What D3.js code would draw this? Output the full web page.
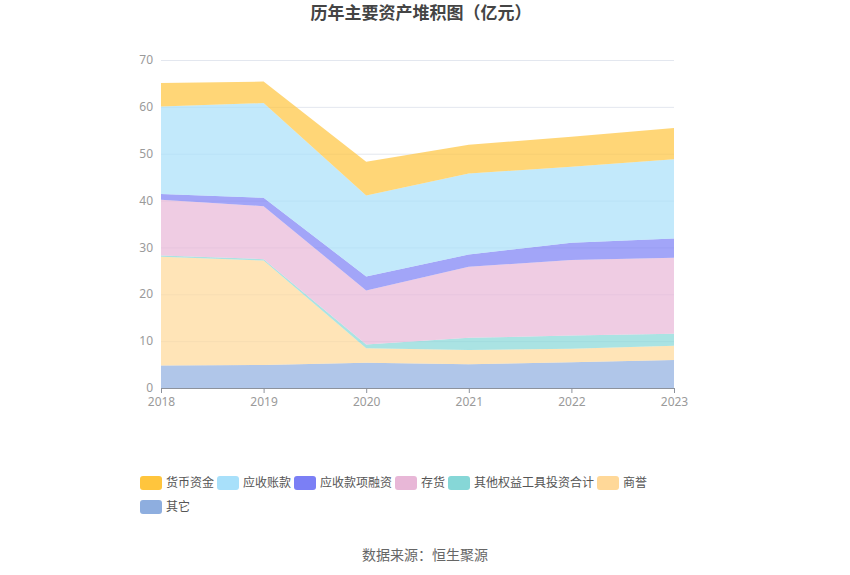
<!DOCTYPE html>
<html><head><meta charset="utf-8">
<script src="https://cdn.jsdelivr.net/npm/d3@7"></script>
<style>body{margin:0;background:#fff;font-family:"Noto Sans CJK SC","Noto Sans",sans-serif;}</style>
</head><body><svg id="c" width="850" height="575"></svg>
<script>
const years = ["2018","2019","2020","2021","2022","2023"];
const seriesNames = ["货币资金","应收账款","应收款项融资","存货","其他权益工具投资合计","商誉","其它"];
const colors = ["#ffc53d","#a8e0fa","#7b7ff5","#e8b7d7","#86d7d7","#ffd898","#8eaedf"];
const 货币资金 = [5.0,4.6,7.2,6.1,6.4,6.7];
const 应收账款 = [18.7,20.2,17.3,17.3,16.2,16.9];
const 应收款项融资 = [1.2,1.8,3.0,2.6,3.7,4.1];
const 存货 = [11.9,11.3,11.5,15.2,16.1,16.2];
const 其他权益工具投资合计 = [0.3,0.3,0.8,2.6,2.8,2.6];
const 商誉 = [23.2,22.3,3.1,3.05,2.9,3.0];
const 其它 = [4.8,4.9,5.4,5.05,5.5,6.0];
const yTicks = [0,10,20,30,40,50,60,70];
const title = "历年主要资产堆积图（亿元）";
const source = "数据来源：恒生聚源";

const valuesByName = {"货币资金":货币资金,"应收账款":应收账款,"应收款项融资":应收款项融资,"存货":存货,"其他权益工具投资合计":其他权益工具投资合计,"商誉":商誉,"其它":其它};
const stackOrder = seriesNames.slice().reverse(); // bottom first
const table = years.map((y,i)=>{const o={year:y}; seriesNames.forEach(n=>o[n]=valuesByName[n][i]); return o;});

const svg = d3.select("#c");
const L=161, R=674, T=60, B=388;
const x = d3.scalePoint().domain(years).range([L,R]);
const y = d3.scaleLinear().domain([0,70]).range([B,T]);

// grid
svg.append("g").selectAll("line").data(yTicks.filter(d=>d>0)).join("line")
  .attr("x1",L).attr("x2",R).attr("y1",d=>y(d)+0.5).attr("y2",d=>y(d)+0.5)
  .attr("stroke","#e3e7ef").attr("stroke-width",1);

const stack = d3.stack().keys(stackOrder);
const layers = stack(table);
const area = d3.area().x(d=>x(d.data.year)).y0(d=>y(d[0])).y1(d=>y(d[1]));
svg.append("g").selectAll("path").data(layers).join("path")
  .attr("d",area)
  .attr("fill",d=>colors[seriesNames.indexOf(d.key)])
  .attr("fill-opacity",0.7);

// y labels
svg.append("g").selectAll("text").data(yTicks).join("text")
  .attr("x",L-8).attr("y",d=>y(d)).attr("dy","0.35em")
  .attr("text-anchor","end").attr("font-size",12).attr("fill","#9a9a9a")
  .attr("font-family","Noto Sans, sans-serif")
  .text(d=>d);

// x axis
const xa = svg.append("g").attr("transform",`translate(0,${B})`).call(d3.axisBottom(x).tickSize(5).tickSizeOuter(0));
xa.select(".domain").attr("stroke","#8d929c");
xa.selectAll(".tick line").attr("stroke","#8d929c");
xa.selectAll(".tick text").attr("fill","#9a9a9a").attr("font-size",12).attr("font-family","Noto Sans, sans-serif").attr("dy","0.8em");

// title
svg.append("text").attr("x",421).attr("y",19).attr("text-anchor","middle")
  .attr("font-size",17).attr("font-weight","bold").attr("fill","#444").text(title);

// legend
const lg = svg.append("g");
let lx=140, ly=476;
seriesNames.forEach((n,i)=>{
  if(i===6){lx=140; ly=500;}
  const g = lg.append("g");
  g.append("rect").attr("x",lx).attr("y",ly).attr("width",22).attr("height",14).attr("rx",3).attr("fill",colors[i]);
  g.append("text").attr("x",lx+26).attr("y",ly+7).attr("dy","0.35em").attr("font-size",12).attr("fill","#555").text(n);
  lx = lx+26+n.length*12+3;
});

svg.append("text").attr("x",425).attr("y",560).attr("text-anchor","middle")
  .attr("font-size",14).attr("fill","#666").text(source);
</script></body></html>
